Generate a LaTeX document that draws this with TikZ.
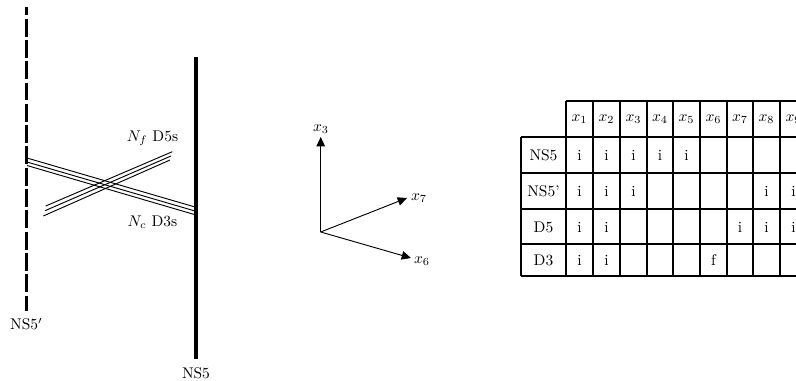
\documentclass[tikz,border=0pt]{standalone}
\usetikzlibrary{arrows.meta}
\tikzset{
  brane/.style={line width=2.2pt},
  stack/.style={line width=0.6pt},
  axis/.style={line width=0.6pt,-{Triangle[length=6pt,width=5.5pt]}},
  grid line/.style={line width=1pt}
}
\begin{document}
\begin{tikzpicture}[x=0.645pt,y=-0.645pt]
\clip (0,0) rectangle (796,381);
% Coordinates
\coordinate (ns5p-top) at (26.4,7);
\coordinate (ns5p-bottom) at (26.4,311);
\coordinate (ns5-top) at (196,57);
\coordinate (ns5-bottom) at (196,359);
\coordinate (origin) at (320.7,232);
% Draw branes
\draw[brane,dash pattern=on 11.6pt off 2.14pt,dash phase=6.26pt] (ns5p-top) -- (ns5p-bottom);
\node[below,yshift=-1pt] (ns5p-label) at (ns5p-bottom) {NS5$'$};
\draw[brane] (ns5-top) -- (ns5-bottom) node[below,yshift=-1pt] (ns5-label) {NS5};
% D3 stack
\coordinate (d3a-left) at (28,158.3);
\coordinate (d3b-left) at (27,162);
\coordinate (d3c-left) at (27,165.5);
\coordinate (d3a-right) at (195,207);
\coordinate (d3b-right) at (195,211);
\coordinate (d3c-right) at (195,214.7);
\draw[stack] (d3a-left) -- (d3a-right);
\draw[stack] (d3b-left) -- (d3b-right);
\draw[stack] (d3c-left) -- (d3c-right);
% D5 stack
\coordinate (d5a-left) at (45.7,206);
\coordinate (d5b-left) at (45,210.7);
\coordinate (d5c-left) at (43.3,216);
\coordinate (d5a-right) at (172.3,151.7);
\coordinate (d5b-right) at (171,156);
\coordinate (d5c-right) at (170,160);
\draw[stack] (d5a-left) -- (d5a-right);
\draw[stack] (d5b-left) -- (d5b-right);
\draw[stack] (d5c-left) -- (d5c-right);
\node (d5-label) at (152.5,138) {$N_f$ D5s};
\node (d3-label) at (152.5,222) {$N_c$ D3s};
% Axes
\coordinate (x3-tip) at (320.7,137);
\coordinate (x7-tip) at (407,198);
\coordinate (x6-tip) at (411,258);
\draw[axis] (origin) -- (x3-tip);
\draw[axis] (origin) -- (x7-tip);
\draw[axis] (origin) -- (x6-tip);
\node (x3-label) at (321,129) {$x_3$};
\node (x7-label) at (419,198) {$x_7$};
\node (x6-label) at (422,261) {$x_6$};
% Table grid
\foreach \xpos in {566,593,620,647,673,700,727,753,780}
  \draw[grid line] (\xpos,101) -- (\xpos,276);
\draw[grid line] (521,137) -- (521,276);
\draw[grid line] (566,101) -- (800,101);
\foreach \ypos in {137,173,209,244,276}
  \draw[grid line] (521,\ypos) -- (800,\ypos);
% Table heading
\foreach \xpos [count=\col] in {579.5,606.5,633.5,660,686.5,713.5,740,766.5,793.5}
  \node (head-\col) at (\xpos,119) {$x_{\col}$};
% Row names
\node (row-ns5) at (543.5,155) {NS5};
\node (row-ns5p) at (543.5,191) {NS5'};
\node (row-d5) at (543.5,227) {D5};
\node (row-d3) at (543.5,260) {D3};
% Table entries
\foreach \xpos/\col in {579.5/1,606.5/2,633.5/3,660/4,686.5/5}
  \node (ns5-\col) at (\xpos,155) {i};
\foreach \xpos/\col in {579.5/1,606.5/2,633.5/3,766.5/8,793.5/9}
  \node (ns5p-\col) at (\xpos,191) {i};
\foreach \xpos/\col in {579.5/1,606.5/2,740/7,766.5/8,793.5/9}
  \node (d5-\col) at (\xpos,227) {i};
\foreach \xpos/\col/\mark in {579.5/1/i,606.5/2/i,713.5/6/f}
  \node (d3-\col) at (\xpos,260) {\mark};
\end{tikzpicture}
\end{document}
